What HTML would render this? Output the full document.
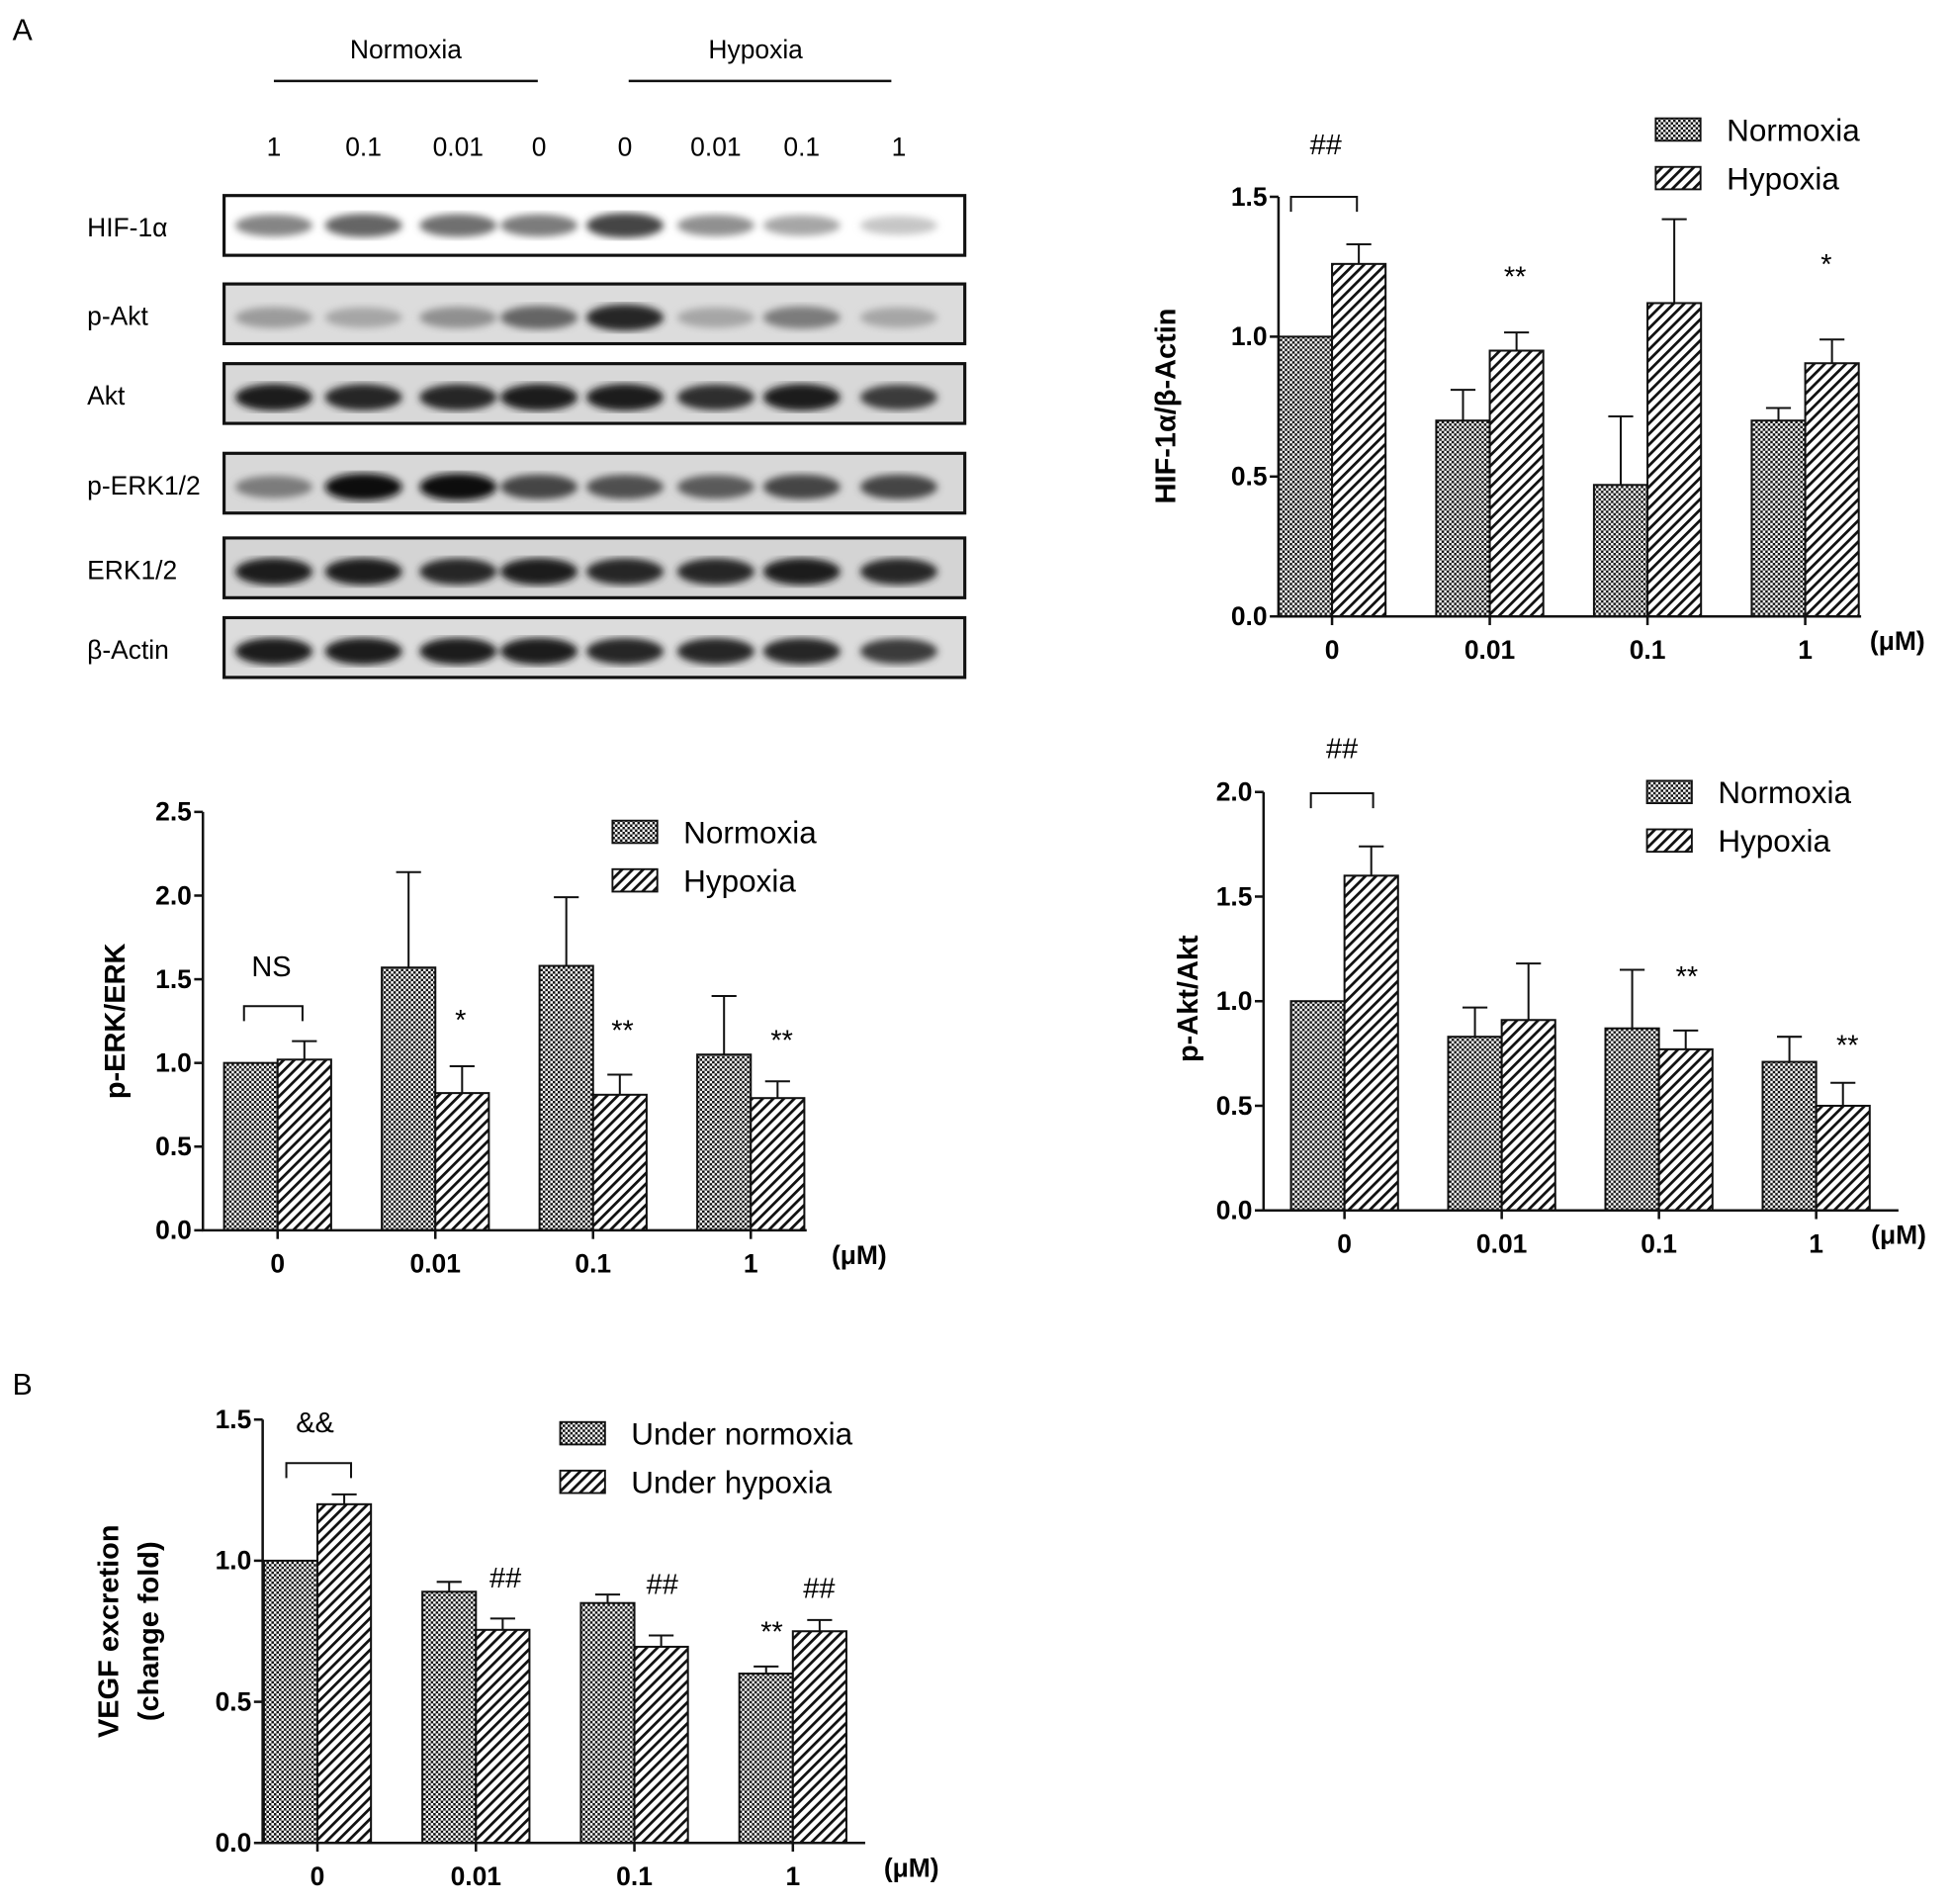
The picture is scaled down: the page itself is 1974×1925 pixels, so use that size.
<!DOCTYPE html>
<html><head><meta charset="utf-8"><style>
html,body{margin:0;padding:0;background:#fff;}
svg{display:block;font-family:"Liberation Sans",Arial,sans-serif;}
.tk{font-weight:bold;font-size:21px;}
.yl{font-weight:bold;font-size:23px;}
.lg{font-size:25px;}
.bl{font-size:21px;}
</style></head><body>
<svg id="fig" width="1974" height="1925" viewBox="0 0 1568 1529" xmlns="http://www.w3.org/2000/svg">
<defs>
<pattern id="chk" width="4" height="4" patternUnits="userSpaceOnUse"><rect width="4" height="4" fill="#fff"/><rect width="2" height="2" fill="#111"/><rect x="2" y="2" width="2" height="2" fill="#111"/></pattern>
<pattern id="diag" width="6" height="6" patternUnits="userSpaceOnUse" patternTransform="rotate(45)"><rect width="6" height="6" fill="#fff"/><rect width="2.2" height="6" fill="#111"/></pattern>
<filter id="blur"><feGaussianBlur stdDeviation="3"/></filter>
</defs>
<text x="10" y="32" font-size="24">A</text>
<text x="10" y="1120" font-size="24">B</text>
<g id="blot"></g>
<g id="c1"></g>
<g id="c2"></g>
<g id="c3"></g>
<g id="c4"></g>
</svg>
<script>
// ---- data ----
const categories = ["0","0.01","0.1","1"];
const hifNorm = [1.0, 0.70, 0.47, 0.70];
const hifNormErr = [0, 0.11, 0.245, 0.045];
const hifHyp = [1.26, 0.95, 1.12, 0.905];
const hifHypErr = [0.07, 0.065, 0.30, 0.085];
const hifTicks = ["0.0","0.5","1.0","1.5"];
const aktNorm = [1.0, 0.83, 0.87, 0.71];
const aktNormErr = [0, 0.14, 0.28, 0.12];
const aktHyp = [1.60, 0.91, 0.77, 0.50];
const aktHypErr = [0.14, 0.27, 0.09, 0.11];
const aktTicks = ["0.0","0.5","1.0","1.5","2.0"];
const erkNorm = [1.0, 1.57, 1.58, 1.05];
const erkNormErr = [0, 0.57, 0.41, 0.35];
const erkHyp = [1.02, 0.82, 0.81, 0.79];
const erkHypErr = [0.11, 0.16, 0.12, 0.10];
const erkTicks = ["0.0","0.5","1.0","1.5","2.0","2.5"];
const vegfNorm = [1.0, 0.89, 0.85, 0.60];
const vegfNormErr = [0, 0.035, 0.03, 0.025];
const vegfHyp = [1.20, 0.755, 0.695, 0.75];
const vegfHypErr = [0.035, 0.04, 0.04, 0.04];
const vegfTicks = ["0.0","0.5","1.0","1.5"];

const NS="http://www.w3.org/2000/svg";
function mk(parent, tag, attrs, text){
  const e=document.createElementNS(NS,tag);
  for(const k in attrs) e.setAttribute(k,attrs[k]);
  if(text!==undefined) e.textContent=text;
  parent.appendChild(e); return e;
}

function chart(g, o){
  const y = v => o.y0 - (v/o.max)*(o.y0-o.yTop);
  const x = i => o.x0 + o.gx0 + i*o.gstep;
  const series=[[o.n,o.ne,"url(#chk)",-1],[o.h,o.he,"url(#diag)",0]];
  series.forEach((s,si)=>{
    s[0].forEach((v,i)=>{
      const bx = x(i) + s[3]*o.bw;
      const r=mk(g,"rect",{x:bx,y:y(v),width:o.bw,height:o.y0-y(v),fill:s[2],stroke:"#111","stroke-width":1.6});
      
      
      if(s[1][i]>0){
        const cx=bx+o.bw/2, top=y(v+s[1][i]);
        const l=mk(g,"path",{d:`M${cx},${y(v)}V${top}M${cx-10},${top}H${cx+10}`,stroke:"#111","stroke-width":1.6,fill:"none"});
        
        
      }
    });
  });
  const ax=mk(g,"path",{d:`M${o.x0},${o.yTop}V${o.y0}H${o.xEnd}`,stroke:"#111","stroke-width":2,fill:"none"});
  
  
  o.ticks.forEach((t,i)=>{
    const v=i*o.max/(o.ticks.length-1);
    mk(g,"line",{x1:o.x0-7,x2:o.x0,y1:y(v),y2:y(v),stroke:"#111","stroke-width":2});
    const tt=mk(g,"text",{x:o.x0-9,y:y(v)+7,"text-anchor":"end",class:"tk"},t);
    
    
  });
  categories.forEach((c,i)=>{
    mk(g,"line",{x1:x(i),x2:x(i),y1:o.y0,y2:o.y0+7,stroke:"#111","stroke-width":2});
    const tt=mk(g,"text",{x:x(i),y:o.y0+34,"text-anchor":"middle",class:"tk"},c);
    
    
  });
  const u=mk(g,"text",{x:o.ux,y:o.y0+27,class:"tk"},"(μM)");
  
  
  o.ylab.forEach((t,k)=>{
    const yt=mk(g,"text",{transform:`translate(${o.ylx+k*32},${o.yly}) rotate(-90)`,"text-anchor":"middle",class:"yl"},t);
    
    
  });
  o.leg.forEach((t,k)=>{
    const ly=o.ly+k*39;
    const lr=mk(g,"rect",{x:o.lx,y:ly,width:36,height:18,fill:k?"url(#diag)":"url(#chk)",stroke:"#111","stroke-width":1.5});
    
    
    const lt=mk(g,"text",{x:o.lx+57,y:ly+18,class:"lg"},t);
    
    
  });
  const b=o.br;
  mk(g,"path",{d:`M${b[0]},${b[2]+12}V${b[2]}H${b[1]}V${b[2]+12}`,stroke:"#111","stroke-width":1.6,fill:"none"});
  o.ann.forEach(a=>{
    const at=mk(g,"text",{x:a[0],y:a[1],"text-anchor":"middle","font-size":23},a[2]);
    
    
  });
}

chart(document.getElementById("c1"),{x0:1027,y0:495,yTop:158,max:1.5,xEnd:1495,gx0:43,gstep:126.7,bw:43,ux:1502,
  n:hifNorm,ne:hifNormErr,h:hifHyp,he:hifHypErr,ticks:hifTicks,ylab:["HIF-1α/β-Actin"],ylx:944,yly:326,
  leg:["Normoxia","Hypoxia"],lx:1330,ly:95,br:[1037,1090,158],
  ann:[[1065,124,"##"],[1217,230,"**"],[1467,220,"*"]]});
chart(document.getElementById("c2"),{x0:1015,y0:972,yTop:636,max:2.0,xEnd:1525,gx0:65,gstep:126.3,bw:43,ux:1503,
  n:aktNorm,ne:aktNormErr,h:aktHyp,he:aktHypErr,ticks:aktTicks,ylab:["p-Akt/Akt"],ylx:962,yly:802,
  leg:["Normoxia","Hypoxia"],lx:1323,ly:627,br:[1053,1103,637],
  ann:[[1078,609,"##"],[1355,792,"**"],[1484,847,"**"]]});
chart(document.getElementById("c3"),{x0:163,y0:988,yTop:652,max:2.5,xEnd:648,gx0:60,gstep:126.7,bw:43,ux:668,
  n:erkNorm,ne:erkNormErr,h:erkHyp,he:erkHypErr,ticks:erkTicks,ylab:["p-ERK/ERK"],ylx:100,yly:820,
  leg:["Normoxia","Hypoxia"],lx:492,ly:659,br:[196,243,808],
  ann:[[218,784,"NS"],[370,827,"*"],[500,835,"**"],[628,843,"**"]]});
chart(document.getElementById("c4"),{x0:211,y0:1480,yTop:1140,max:1.5,xEnd:695,gx0:44,gstep:127.3,bw:43,ux:710,
  n:vegfNorm,ne:vegfNormErr,h:vegfHyp,he:vegfHypErr,ticks:vegfTicks,ylab:["VEGF excretion","(change fold)"],ylx:95,yly:1310,
  leg:["Under normoxia","Under hypoxia"],lx:450,ly:1142,br:[230,282,1175],
  ann:[[253,1150,"&&"],[406,1275,"##"],[532,1280,"##"],[658,1283,"##"],[620,1318,"**"]]});

// ---- western blot ----
const blot=document.getElementById("blot");
const lanes=[220,292,368,433,502,575,644,722];
const laneLabels=["1","0.1","0.01","0","0","0.01","0.1","1"];
const rows=[["HIF-1α",157,[0.45,0.6,0.55,0.5,0.75,0.4,0.3,0.15],"#fff"],
["p-Akt",228,[0.35,0.3,0.4,0.6,0.9,0.3,0.5,0.3],"#dcdcdc"],
["Akt",292,[0.95,0.9,0.9,0.95,0.95,0.85,0.95,0.8],"#d8d8d8"],
["p-ERK1/2",364,[0.5,1,1,0.75,0.7,0.65,0.75,0.75],"#d8d8d8"],
["ERK1/2",432,[0.95,0.95,0.9,0.95,0.9,0.9,0.95,0.9],"#d4d4d4"],
["β-Actin",496,[0.95,0.95,0.95,0.95,0.9,0.9,0.9,0.8],"#dcdcdc"]];
mk(blot,"text",{x:326,y:47,"text-anchor":"middle",class:"bl"},"Normoxia");
mk(blot,"text",{x:607,y:47,"text-anchor":"middle",class:"bl"},"Hypoxia");
mk(blot,"line",{x1:220,x2:432,y1:65,y2:65,stroke:"#111","stroke-width":2});
mk(blot,"line",{x1:505,x2:716,y1:65,y2:65,stroke:"#111","stroke-width":2});
lanes.forEach((lx,i)=>{mk(blot,"text",{x:lx,y:125,"text-anchor":"middle",class:"bl"},laneLabels[i]);});
rows.forEach(r=>{
  const g=mk(blot,"g",{});
  
  
  mk(g,"text",{x:70,y:r[1]+33,class:"bl"},r[0]);
  mk(g,"rect",{x:180,y:r[1],width:595,height:48,fill:r[3]});
  const bg=mk(g,"g",{filter:"url(#blur)"});
  lanes.forEach((lx,i)=>{
    const v=r[2][i], c=Math.round(230-v*215);
    mk(bg,"ellipse",{cx:lx,cy:r[1]+(r[0]==="HIF-1α"?24:27),rx:31,ry:7+v*4,fill:`rgb(${c},${c},${c})`});
  });
  mk(g,"rect",{x:180,y:r[1],width:595,height:48,fill:"none",stroke:"#111","stroke-width":2.5});
});
</script>
</body></html>
